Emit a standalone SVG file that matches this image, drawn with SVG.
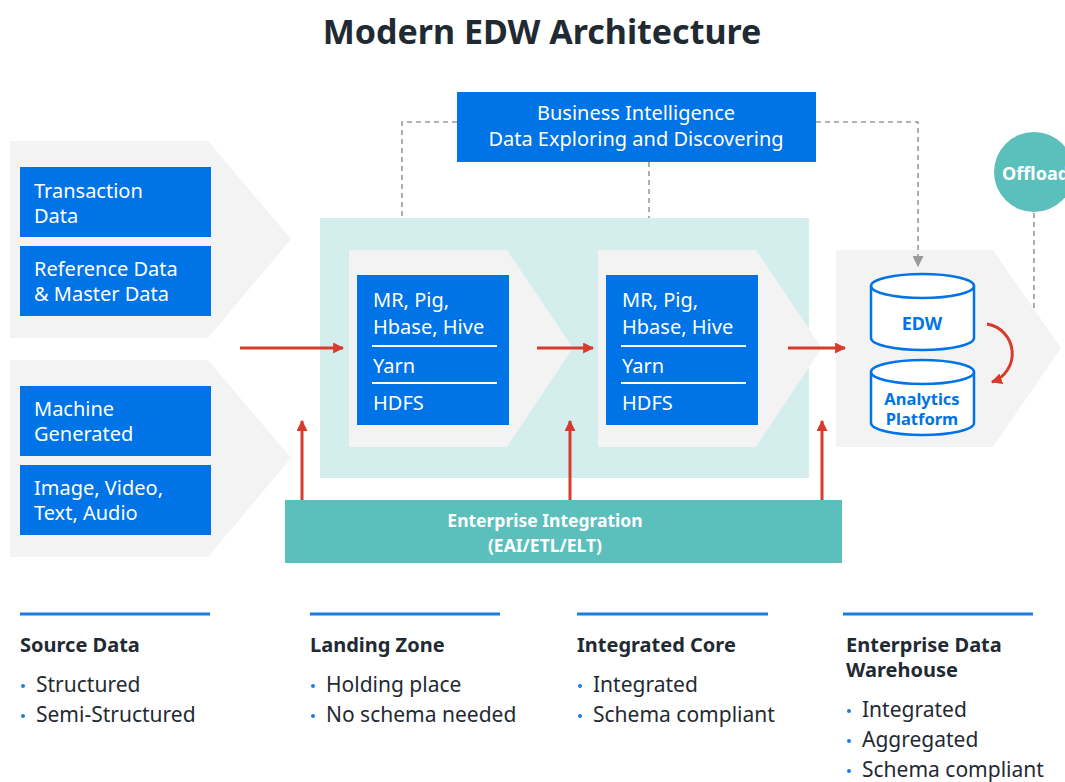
<svg xmlns="http://www.w3.org/2000/svg" width="1065" height="782" viewBox="0 0 1065 782">
<defs>
<style>
text{font-family:"Noto Sans","Open Sans","Liberation Sans",sans-serif}
.title{font-size:34px;font-weight:700;fill:#1f2a33}
.box{fill:#0073e6}
.wt{fill:#fff;font-size:20px}
.chev{fill:#f3f3f3}
.red{stroke:#d93a2e;stroke-width:3;fill:none}
.dash{stroke:#999;stroke-width:1.6;stroke-dasharray:5 4;fill:none}
.sep{stroke:#fff;stroke-width:2}
.cyl{fill:#fff;stroke:#0073e6;stroke-width:2.5}
.cylt{fill:#0073e6;font-weight:700;text-anchor:middle}
.hd{font-size:20px;font-weight:700;fill:#1f2a33}
.it{font-size:21px;fill:#1f2a33}
.bar{stroke:#1a7de0;stroke-width:3}
.dot{fill:#1a7de0}
</style>
<marker id="ar" viewBox="0 0 10 10" refX="9" refY="5" markerWidth="11" markerHeight="11" markerUnits="userSpaceOnUse" orient="auto">
<path d="M0,0 L10,5 L0,10 z" fill="#d93a2e"/>
</marker>
<marker id="ag" viewBox="0 0 10 10" refX="9" refY="5" markerWidth="11" markerHeight="11" markerUnits="userSpaceOnUse" orient="auto">
<path d="M0,0 L10,5 L0,10 z" fill="#999"/>
</marker>
</defs>
<rect width="1065" height="782" fill="#fff"/>
<text class="title" x="542" y="44" text-anchor="middle">Modern EDW Architecture</text>

<g id="source-structured">
<polygon class="chev" points="10,141 208,141 291,239 208,338 10,338"/>
<rect class="box" x="20" y="167" width="191" height="70"/>
<text class="wt" x="34" y="198">Transaction</text>
<text class="wt" x="34" y="223">Data</text>
<rect class="box" x="20" y="246" width="191" height="70"/>
<text class="wt" x="34" y="276">Reference Data</text>
<text class="wt" x="34" y="301">&amp; Master Data</text>
</g>
<g id="source-semi">
<polygon class="chev" points="10,360 208,360 291,458 208,557 10,557"/>
<rect class="box" x="20" y="386" width="191" height="70"/>
<text class="wt" x="34" y="416">Machine</text>
<text class="wt" x="34" y="441">Generated</text>
<rect class="box" x="20" y="465" width="191" height="70"/>
<text class="wt" x="34" y="495">Image, Video,</text>
<text class="wt" x="34" y="520">Text, Audio</text>
</g>

<g id="offload">
<circle cx="1034" cy="172" r="40" fill="#5bbfbc"/>
<text x="1002" y="180" font-size="18" font-weight="700" fill="#fff">Offload</text>
</g>

<g id="bi">
<rect class="box" x="457" y="92" width="359" height="70"/>
<text class="wt" x="636" y="120" text-anchor="middle">Business Intelligence</text>
<text class="wt" x="636" y="146" text-anchor="middle">Data Exploring and Discovering</text>
</g>

<g id="landing-area">
<rect x="320" y="218" width="489" height="260" fill="#d4eded"/>
</g>
<g id="landing-zone">
<polygon class="chev" points="349,250 507,250 573,348 507,447 349,447"/>
<rect class="box" x="357" y="275" width="152" height="150"/>
<text class="wt" x="373" y="307">MR, Pig,</text>
<text class="wt" x="373" y="334">Hbase, Hive</text>
<line class="sep" x1="372" y1="346" x2="497" y2="346"/>
<text class="wt" x="373" y="373">Yarn</text>
<line class="sep" x1="372" y1="383" x2="497" y2="383"/>
<text class="wt" x="373" y="410">HDFS</text>
</g>
<g id="integrated-core">
<polygon class="chev" points="598,250 756,250 822,348 756,447 598,447"/>
<rect class="box" x="606" y="275" width="152" height="150"/>
<text class="wt" x="622" y="307">MR, Pig,</text>
<text class="wt" x="622" y="334">Hbase, Hive</text>
<line class="sep" x1="621" y1="346" x2="746" y2="346"/>
<text class="wt" x="622" y="373">Yarn</text>
<line class="sep" x1="621" y1="383" x2="746" y2="383"/>
<text class="wt" x="622" y="410">HDFS</text>
</g>

<g id="edw-area">
<polygon class="chev" points="836,250 993,250 1061,348 993,447 836,447"/>
</g>
<g id="edw">
<path class="cyl" d="M871,286 L871,338 A51.5,12 0 0 0 974,338 L974,286 A51.5,12 0 0 0 871,286 Z"/>
<path class="cyl" d="M871,286 A51.5,12 0 0 0 974,286"/>
<text class="cylt" x="922" y="330" font-size="18">EDW</text>
</g>
<g id="analytics">
<path class="cyl" d="M871,372 L871,423 A51.5,12 0 0 0 974,423 L974,372 A51.5,12 0 0 0 871,372 Z"/>
<path class="cyl" d="M871,372 A51.5,12 0 0 0 974,372"/>
<text class="cylt" x="922" y="405" font-size="16.5">Analytics</text>
<text class="cylt" x="922" y="425" font-size="16.5">Platform</text>
</g>

<g id="enterprise-integration">
<rect x="285" y="500" width="557" height="63" fill="#5bbfbc"/>
<text x="545" y="527" text-anchor="middle" font-size="17.5" font-weight="700" fill="#fff">Enterprise Integration</text>
<text x="545" y="552" text-anchor="middle" font-size="17.5" font-weight="700" fill="#fff">(EAI/ETL/ELT)</text>
</g>

<g id="connectors">
<path class="dash" d="M457,122 L402,122 L402,218"/>
<path class="dash" d="M649,162 L649,218"/>
<path class="dash" d="M816,122 L918,122 L918,266" marker-end="url(#ag)"/>
<path class="dash" d="M1034,213 L1034,309"/>
<line class="red" x1="240" y1="348" x2="343" y2="348" marker-end="url(#ar)"/>
<line class="red" x1="537" y1="348" x2="593" y2="348" marker-end="url(#ar)"/>
<line class="red" x1="788" y1="348" x2="845" y2="348" marker-end="url(#ar)"/>
<line class="red" x1="302" y1="500" x2="302" y2="421" marker-end="url(#ar)"/>
<line class="red" x1="570" y1="500" x2="570" y2="421" marker-end="url(#ar)"/>
<line class="red" x1="822" y1="500" x2="822" y2="421" marker-end="url(#ar)"/>
<path class="red" d="M987,324 A30,30 0 0 1 992,382" marker-end="url(#ar)"/>
</g>

<g id="legend-source">
<line class="bar" x1="20" y1="614" x2="210" y2="614"/>
<text class="hd" x="20" y="652">Source Data</text>
<circle class="dot" cx="23" cy="686" r="2"/>
<text class="it" x="36" y="692">Structured</text>
<circle class="dot" cx="23" cy="716" r="2"/>
<text class="it" x="36" y="722">Semi-Structured</text>
</g>
<g id="legend-landing">
<line class="bar" x1="310" y1="614" x2="500" y2="614"/>
<text class="hd" x="310" y="652">Landing Zone</text>
<circle class="dot" cx="313" cy="686" r="2"/>
<text class="it" x="326" y="692">Holding place</text>
<circle class="dot" cx="313" cy="716" r="2"/>
<text class="it" x="326" y="722">No schema needed</text>
</g>
<g id="legend-core">
<line class="bar" x1="577" y1="614" x2="768" y2="614"/>
<text class="hd" x="577" y="652">Integrated Core</text>
<circle class="dot" cx="580" cy="686" r="2"/>
<text class="it" x="593" y="692">Integrated</text>
<circle class="dot" cx="580" cy="716" r="2"/>
<text class="it" x="593" y="722">Schema compliant</text>
</g>
<g id="legend-edw">
<line class="bar" x1="843" y1="614" x2="1033" y2="614"/>
<text class="hd" x="846" y="652">Enterprise Data</text>
<text class="hd" x="846" y="677">Warehouse</text>
<circle class="dot" cx="849" cy="711" r="2"/>
<text class="it" x="862" y="717">Integrated</text>
<circle class="dot" cx="849" cy="741" r="2"/>
<text class="it" x="862" y="747">Aggregated</text>
<circle class="dot" cx="849" cy="771" r="2"/>
<text class="it" x="862" y="777">Schema compliant</text>
</g>
</svg>
